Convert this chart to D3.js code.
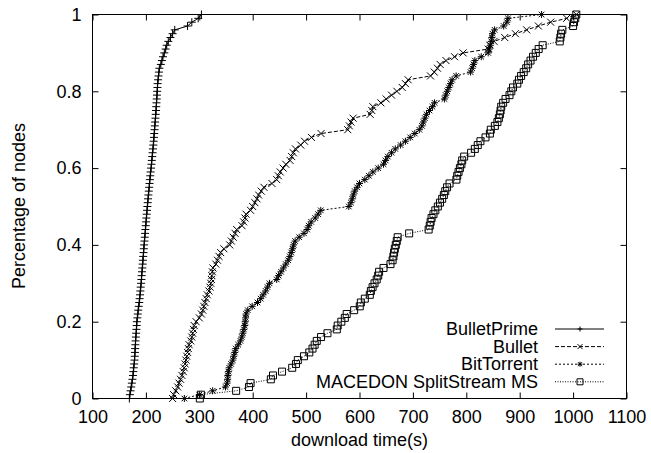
<!DOCTYPE html>
<html>
<head>
<meta charset="utf-8">
<script src="https://cdn.jsdelivr.net/npm/d3@7"></script>
<style>
body { margin: 0; background: #fff; }
text { font-family: "Liberation Sans", Arial, Helvetica, sans-serif; font-size: 18px; fill: #000; }
</style>
</head>
<body>
<div id="chart"></div>
<script>
var xTicks = [100, 200, 300, 400, 500, 600, 700, 800, 900, 1000, 1100];
var yTicks = [0, 0.2, 0.4, 0.6, 0.8, 1];
var seriesNames = ["BulletPrime", "Bullet", "BitTorrent", "MACEDON SplitStream MS"];

// sorted download times (s), one per node; y = rank / (n - 1)
var bulletPrimeTimes = [
	169, 170, 171.3, 172.5, 173.7, 174.8, 175.8, 176.5, 177.2, 178,
	178.7, 179.1, 179.5, 179.9, 180.3, 180.7, 181.2, 181.7, 182.2, 182.7,
	183.1, 184, 184.8, 185.6, 186.5, 187.5, 188.3, 189, 189.7, 190.3,
	191, 191.6, 192.1, 192.7, 193.3, 193.9, 194.4, 195, 195.6, 196.1,
	196.7, 197.3, 197.9, 198.5, 199.1, 199.7, 200.3, 200.9, 201.5, 202.1,
	202.8, 203.4, 204, 204.7, 205.4, 206.1, 206.8, 207.5, 208.2, 208.9,
	209.7, 210.4, 211.1, 211.8, 212.5, 213.2, 213.9, 214.5, 215.1, 215.6,
	216.2, 216.7, 217.3, 217.9, 218.4, 219, 219.4, 219.8, 220.3, 220.7,
	221.1, 221.6, 222, 222.8, 223.6, 224.4, 225.2, 228, 230, 232,
	234.5, 237, 239, 242, 246, 250, 254, 278, 286, 298,
	304];
var bulletTimes = [
	250, 252, 256, 259.5, 262, 264.8, 267.5, 270, 271.8, 273.5,
	275, 276.5, 278, 279.5, 281, 284, 286, 287.5, 289, 290.5,
	294, 300, 304, 306.5, 308.5, 310.5, 313, 315, 318, 320,
	321.5, 322.7, 323.5, 324.5, 325.5, 331, 334, 337, 340, 346,
	357, 360, 363.5, 367, 370, 380, 383, 385.5, 387.5, 396,
	400, 404, 408, 411, 416, 421, 436, 445, 448, 451.5,
	457, 462, 470, 473, 476, 480, 490, 497, 510, 528,
	578, 581, 584, 588, 620, 623, 625, 640, 650, 660,
	670, 680, 686, 691, 733, 740, 746, 751, 762, 778,
	794, 841, 844, 852, 872, 892, 913, 935, 958, 988,
	1006];
var bitTorrentTimes = [
	272, 300, 325, 349, 352, 353, 353.5, 354.5, 356, 359.5,
	362.7, 364.5, 366.4, 368.3, 373, 377, 379.5, 381.5, 383.4, 385,
	386, 386.8, 387.6, 390.8, 399, 409, 415, 419.5, 424.3, 427.8,
	431.5, 445, 448.5, 453, 457.5, 462, 466.5, 469.5, 472.3, 474.6,
	476.6, 479.5, 487, 496, 502, 505, 509.5, 517, 522.5, 527.5,
	580, 584, 586.5, 588.5, 591, 595.5, 600, 610, 617.5, 625,
	635, 645, 648.8, 653, 660, 667, 677, 686, 695, 703.5,
	712, 717, 719.5, 722.5, 725.5, 731, 736.5, 740.5, 759, 761.5,
	764.4, 767.3, 770.3, 773.5, 781, 808, 811, 813.5, 816, 828,
	841, 843, 845, 846.7, 847.8, 849, 853, 870, 876, 878,
	941];
var splitStreamTimes = [
	301, 303, 369, 393, 396, 434, 438, 455, 474, 481,
	484.5, 496, 506, 512, 516, 520, 528, 540, 557.5, 559.2,
	566, 572.5, 576, 590, 600.5, 602.5, 610, 619.3, 621.3, 624.5,
	628.1, 632.2, 635, 636.7, 645, 658, 662, 663.5, 664.8, 666.1,
	668, 669.8, 671.5, 693, 729.5, 731.6, 733.2, 735, 738.5, 742,
	746.7, 750.7, 754.8, 758, 760.6, 764, 768.6, 781.5, 783, 785.5,
	788, 790.8, 792.3, 796, 809, 816, 821.5, 826.5, 836, 844.2,
	845.9, 853.5, 858.3, 861, 862.9, 864.2, 865.4, 869, 873.5, 880.9,
	884.3, 887.5, 895.5, 898.6, 902.6, 907.5, 912.2, 915.8, 920.3, 925,
	930.1, 935.5, 943, 975, 976.2, 977.5, 979.8, 1000, 1001.6, 1004,
	1006];

var allTimes = [bulletPrimeTimes, bulletTimes, bitTorrentTimes, splitStreamTimes];
var markers = ["plus", "cross", "star", "square"];
var markerSize = [4, 3.5, 3.5, 3.5];
var dashes = [null, "4,2", "2,2", "1,1.5"];

function markerPath(type, s)
{
	if (type == "plus") return "M" + (-s) + ",0H" + s + "M0," + (-s) + "V" + s;
	if (type == "cross") return "M" + (-s) + "," + (-s) + "L" + s + "," + s + "M" + (-s) + "," + s + "L" + s + "," + (-s);
	if (type == "star") return markerPath("plus", s) + markerPath("cross", s * 0.8);
	return "M" + (-s) + "," + (-s) + "h" + (2 * s) + "v" + (2 * s) + "h" + (-2 * s) + "Z";
}

var svg = d3.select("#chart").append("svg")
	.attr("width", 651)
	.attr("height", 453);

var x = d3.scaleLinear().domain([100, 1100]).range([92.5, 626.5]);
var y = d3.scaleLinear().domain([0, 1]).range([398.5, 14.5]);

function styleAxis(g)
{
	g.select(".domain").remove();
	g.selectAll("line").attr("stroke", "#000");
	g.attr("font-size", null).attr("font-family", null);
}

svg.append("g").attr("transform", "translate(0,398.5)")
	.call(d3.axisBottom(x).tickValues(xTicks).tickSize(-6).tickSizeOuter(0).tickPadding(12).tickFormat(d3.format("d")))
	.call(styleAxis);
svg.append("g").attr("transform", "translate(0,14.5)")
	.call(d3.axisTop(x).tickValues(xTicks).tickSize(-6).tickSizeOuter(0).tickFormat(""))
	.call(styleAxis);
svg.append("g").attr("transform", "translate(92.5,0)")
	.call(d3.axisLeft(y).tickValues(yTicks).tickSize(-6).tickSizeOuter(0).tickPadding(11).tickFormat(d3.format("")))
	.call(styleAxis);
svg.append("g").attr("transform", "translate(626.5,0)")
	.call(d3.axisRight(y).tickValues(yTicks).tickSize(-6).tickSizeOuter(0).tickFormat(""))
	.call(styleAxis);

svg.append("rect")
	.attr("x", 92.5).attr("y", 14.5)
	.attr("width", 534).attr("height", 384)
	.attr("fill", "none").attr("stroke", "#000");

var line = d3.line()
	.x(function(d) { return x(d[0]); })
	.y(function(d) { return y(d[1]); });

allTimes.forEach(function(times, k)
{
	var pts = times.map(function(t, i) { return [t, i / (times.length - 1)]; });
	var g = svg.append("g");
	g.append("path")
		.attr("d", line(pts))
		.attr("fill", "none")
		.attr("stroke", "#000")
		.attr("stroke-width", 1)
		.attr("stroke-dasharray", dashes[k]);
	g.selectAll("path.pt")
		.data(pts)
		.enter().append("path")
		.attr("class", "pt")
		.attr("transform", function(d) { return "translate(" + x(d[0]) + "," + y(d[1]) + ")"; })
		.attr("d", markerPath(markers[k], markerSize[k]))
		.attr("fill", "none")
		.attr("stroke", "#000")
		.attr("stroke-width", 1);

	// legend row
	var ly = 329 + k * 17.6;
	svg.append("text")
		.attr("x", 538).attr("y", ly + 6)
		.attr("text-anchor", "end")
		.text(seriesNames[k]);
	svg.append("line")
		.attr("x1", 555).attr("x2", 604)
		.attr("y1", ly).attr("y2", ly)
		.attr("stroke", "#000")
		.attr("stroke-dasharray", dashes[k]);
	svg.append("path")
		.attr("transform", "translate(580," + ly + ")")
		.attr("d", markerPath(markers[k], markers[k] == "square" ? 3 : 2.5))
		.attr("fill", "none")
		.attr("stroke", "#000");
});

svg.append("text")
	.attr("x", 359.5).attr("y", 446)
	.attr("text-anchor", "middle")
	.text("download time(s)");

svg.append("text")
	.attr("transform", "translate(25,206) rotate(-90)")
	.attr("text-anchor", "middle")
	.text("Percentage of nodes");
</script>
</body>
</html>
